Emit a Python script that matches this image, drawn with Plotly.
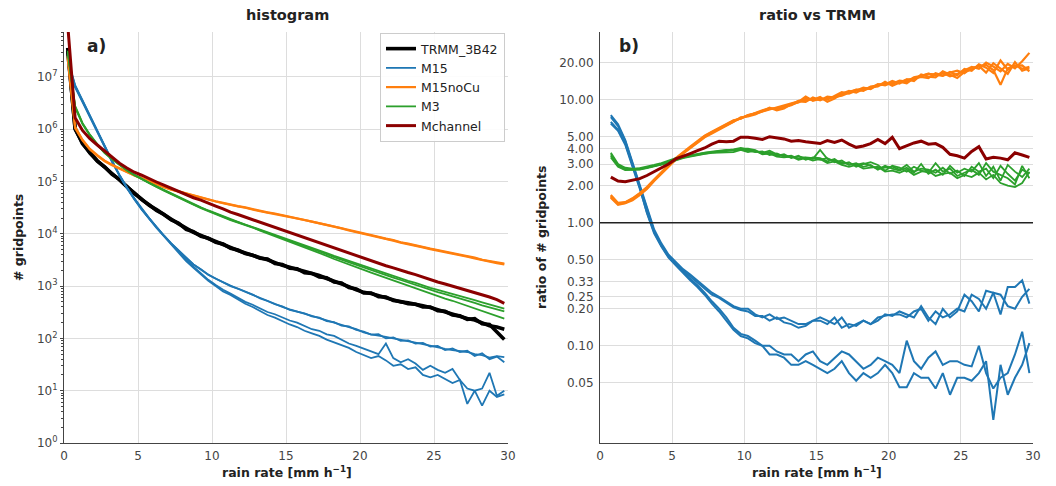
import plotly.graph_objects as go

# ---------------- data ----------------
rain_rate = [0.25, 0.75, 1.25, 1.75, 2.25, 2.75, 3.25, 3.75, 4.25, 4.75,
             5.25, 5.75, 6.25, 6.75, 7.25, 7.75, 8.25, 8.75, 9.25, 9.75,
             10.25, 10.75, 11.25, 11.75, 12.25, 12.75, 13.25, 13.75, 14.25, 14.75,
             15.25, 15.75, 16.25, 16.75, 17.25, 17.75, 18.25, 18.75, 19.25, 19.75,
             20.25, 20.75, 21.25, 21.75, 22.25, 22.75, 23.25, 23.75, 24.25, 24.75,
             25.25, 25.75, 26.25, 26.75, 27.25, 27.75, 28.25, 28.75, 29.25, 29.75]
rain_rate_ratio = rain_rate[1:]

# histogram (# gridpoints)
hist_trmm_a = [3.6e7, 1.0e6, 5.5e5, 3.5e5, 2.5e5, 1.86e5, 1.41e5, 1.07e5, 8.1e4, 5.9e4,
               4.6e4, 3.5e4, 2.9e4, 2.3e4, 1.9e4, 1.55e4, 1.26e4, 1.07e4, 9300, 8100,
               7100, 6300, 5500, 4800, 4300, 3800, 3500, 3200, 2800, 2500,
               2300, 2100, 1900, 1700, 1600, 1400, 1260, 1120, 980, 850,
               760, 720, 660, 600, 550, 500, 480, 440, 420, 390,
               355, 320, 290, 260, 240, 225, 200, 175, 165, 150]
hist_trmm_b = [3.2e7, 1.05e6, 5.3e5, 3.6e5, 2.45e5, 1.9e5, 1.38e5, 1.1e5, 7.9e4, 6.1e4,
               4.5e4, 3.6e4, 2.8e4, 2.35e4, 1.85e4, 1.6e4, 1.22e4, 1.1e4, 9000, 8300,
               6900, 6400, 5300, 4900, 4200, 3900, 3400, 3300, 2700, 2600,
               2200, 2150, 1800, 1750, 1500, 1450, 1200, 1150, 940, 880,
               740, 740, 630, 620, 530, 510, 460, 450, 400, 400,
               340, 330, 280, 270, 230, 240, 190, 185, 135, 95]
hist_m15_a = [2.0e7, 6.6e6, 3.5e6, 1.8e6, 8.9e5, 4.6e5, 2.4e5, 1.3e5, 7.6e4, 4.7e4,
              3.0e4, 2.0e4, 1.35e4, 9300, 6600, 4800, 3500, 2600, 2100, 1660,
              1380, 1170, 1020, 890, 780, 680, 590, 510, 460, 400,
              360, 330, 295, 270, 245, 220, 200, 180, 165, 150,
              130, 120, 115, 107, 100, 93, 89, 83, 78, 72,
              68, 63, 60, 58, 55, 50, 48, 43, 46, 44]
hist_m15_b = [1.8e7, 6.3e6, 3.3e6, 1.7e6, 8.6e5, 4.5e5, 2.35e5, 1.3e5, 7.4e4, 4.6e4,
              2.9e4, 1.95e4, 1.3e4, 9100, 6500, 4700, 3450, 2600, 2050, 1650,
              1400, 1200, 1000, 900, 800, 690, 580, 520, 450, 410,
              350, 320, 300, 265, 250, 215, 205, 175, 170, 145,
              135, 118, 120, 100, 104, 90, 92, 80, 82, 70,
              72, 60, 64, 55, 58, 46, 52, 40, 45, 35]
hist_m15_c = [2.2e7, 7.0e6, 3.6e6, 1.85e6, 9.2e5, 4.7e5, 2.45e5, 1.35e5, 7.7e4, 4.8e4,
              3.05e4, 2.0e4, 1.35e4, 9200, 6400, 4600, 3200, 2350, 1740, 1320,
              1050, 850, 720, 600, 500, 440, 380, 320, 290, 250,
              220, 200, 175, 150, 140, 120, 112, 95, 80, 72,
              63, 56, 50, 80, 42, 35, 40, 33, 25, 30,
              25, 22, 26, 16, 11, 10, 11, 22, 8, 10]
hist_m15_d = [2.1e7, 6.8e6, 3.4e6, 1.75e6, 8.8e5, 4.6e5, 2.4e5, 1.3e5, 7.5e4, 4.6e4,
              2.95e4, 1.95e4, 1.3e4, 9000, 6300, 4500, 3000, 2240, 1660, 1260,
              1000, 790, 680, 550, 460, 400, 330, 280, 250, 215,
              185, 165, 140, 125, 112, 95, 85, 76, 66, 55,
              48, 42, 46, 38, 30, 32, 26, 28, 20, 18,
              20, 17, 14, 16, 5.6, 10, 5.2, 10, 7.6, 8.5]
hist_m15nocu_a = [2.5e7, 1.12e6, 6.3e5, 4.2e5, 3.2e5, 2.5e5, 2.1e5, 1.78e5, 1.51e5, 1.32e5,
                  1.17e5, 1.02e5, 8.9e4, 7.9e4, 7.1e4, 6.5e4, 5.9e4, 5.4e4, 4.9e4, 4.6e4,
                  4.2e4, 3.9e4, 3.6e4, 3.4e4, 3.2e4, 2.95e4, 2.75e4, 2.57e4, 2.45e4, 2.29e4,
                  2.14e4, 2.0e4, 1.86e4, 1.74e4, 1.62e4, 1.48e4, 1.38e4, 1.29e4, 1.17e4, 1.1e4,
                  1.02e4, 9500, 8700, 8100, 7600, 6900, 6500, 6000, 5600, 5200,
                  4900, 4600, 4300, 4000, 3700, 3500, 3200, 3000, 2800, 2700]
hist_m15nocu_b = [2.3e7, 1.05e6, 6.1e5, 4.1e5, 3.1e5, 2.45e5, 2.05e5, 1.75e5, 1.49e5, 1.3e5,
                  1.15e5, 1.0e5, 8.8e4, 7.8e4, 7.0e4, 6.4e4, 5.8e4, 5.3e4, 4.85e4, 4.5e4,
                  4.15e4, 3.85e4, 3.55e4, 3.35e4, 3.15e4, 2.9e4, 2.7e4, 2.55e4, 2.4e4, 2.25e4,
                  2.1e4, 1.97e4, 1.84e4, 1.71e4, 1.6e4, 1.47e4, 1.36e4, 1.27e4, 1.16e4, 1.08e4,
                  1.0e4, 9300, 8600, 8000, 7400, 6800, 6400, 5900, 5500, 5100,
                  4800, 4500, 4200, 3900, 3650, 3400, 3150, 2950, 2750, 2600]
hist_m3_a = [3.2e7, 2.8e6, 1.32e6, 7.9e5, 5.2e5, 3.6e5, 2.7e5, 2.1e5, 1.66e5, 1.35e5,
             1.12e5, 9.5e4, 8.1e4, 6.9e4, 5.9e4, 5.0e4, 4.4e4, 3.7e4, 3.2e4, 2.8e4,
             2.45e4, 2.19e4, 1.9e4, 1.7e4, 1.51e4, 1.35e4, 1.2e4, 1.07e4, 9500, 8500,
             7600, 6800, 6000, 5400, 4800, 4300, 3800, 3400, 3000, 2700,
             2400, 2140, 1950, 1740, 1550, 1410, 1260, 1150, 1020, 930,
             850, 780, 710, 650, 590, 540, 490, 450, 410, 370]
hist_m3_b = [3.1e7, 2.7e6, 1.28e6, 7.8e5, 5.1e5, 3.55e5, 2.68e5, 2.08e5, 1.64e5, 1.34e5,
             1.11e5, 9.4e4, 8.0e4, 6.8e4, 5.8e4, 4.95e4, 4.3e4, 3.65e4, 3.15e4, 2.75e4,
             2.4e4, 2.15e4, 1.87e4, 1.67e4, 1.5e4, 1.33e4, 1.18e4, 1.05e4, 9300, 8300,
             7400, 6600, 5800, 5200, 4600, 4100, 3600, 3200, 2850, 2550,
             2250, 2000, 1820, 1620, 1450, 1310, 1170, 1060, 940, 850,
             770, 700, 640, 580, 520, 480, 430, 390, 360, 330]
hist_m3_c = [3.0e7, 2.6e6, 1.25e6, 7.6e5, 5.0e5, 3.5e5, 2.65e5, 2.05e5, 1.62e5, 1.32e5,
             1.1e5, 9.3e4, 7.9e4, 6.7e4, 5.7e4, 4.9e4, 4.25e4, 3.6e4, 3.1e4, 2.7e4,
             2.35e4, 2.1e4, 1.83e4, 1.63e4, 1.48e4, 1.32e4, 1.15e4, 1.02e4, 9100, 7900,
             7100, 6300, 5500, 4900, 4300, 3800, 3300, 2950, 2600, 2300,
             2040, 1820, 1620, 1450, 1290, 1150, 1020, 910, 810, 720,
             650, 575, 525, 470, 415, 380, 340, 300, 270, 240]
hist_mchannel = [1.0e8, 1.66e6, 9.5e5, 6.6e5, 5.0e5, 3.8e5, 2.95e5, 2.24e5, 1.82e5, 1.51e5,
                 1.32e5, 1.12e5, 9.8e4, 8.5e4, 7.4e4, 6.5e4, 5.6e4, 4.9e4, 4.4e4, 3.8e4,
                 3.4e4, 3.0e4, 2.6e4, 2.34e4, 2.09e4, 1.86e4, 1.66e4, 1.48e4, 1.32e4, 1.17e4,
                 1.07e4, 9500, 8500, 7600, 6800, 6000, 5400, 4800, 4300, 3800,
                 3400, 3000, 2750, 2450, 2240, 2000, 1820, 1660, 1480, 1350,
                 1200, 1100, 1000, 910, 830, 760, 690, 620, 550, 470]

# ratio vs TRMM (starts at 0.75 mm/h)
ratio_m15_a = [7.50, 6.30, 4.70, 3.10, 2.05, 1.30, 0.88, 0.68, 0.55,
               0.48, 0.42, 0.38, 0.34, 0.30, 0.27, 0.25, 0.23, 0.21, 0.20,
               0.20, 0.18, 0.17, 0.18, 0.165, 0.17, 0.16, 0.15, 0.15, 0.16,
               0.17, 0.16, 0.15, 0.17, 0.14, 0.15, 0.16, 0.15, 0.17, 0.175,
               0.18, 0.18, 0.17, 0.19, 0.20, 0.16, 0.19, 0.17, 0.18, 0.20,
               0.19, 0.26, 0.24, 0.20, 0.27, 0.26, 0.21, 0.20, 0.25, 0.29]
ratio_m15_b = [6.40, 5.60, 4.30, 2.90, 1.90, 1.22, 0.84, 0.65, 0.53,
               0.46, 0.41, 0.37, 0.33, 0.29, 0.26, 0.245, 0.225, 0.205, 0.195,
               0.19, 0.175, 0.175, 0.16, 0.17, 0.155, 0.15, 0.14, 0.145, 0.16,
               0.16, 0.15, 0.17, 0.14, 0.15, 0.145, 0.16, 0.15, 0.16, 0.18,
               0.175, 0.19, 0.18, 0.17, 0.21, 0.17, 0.15, 0.20, 0.17, 0.19,
               0.26, 0.23, 0.19, 0.28, 0.27, 0.18, 0.30, 0.30, 0.34, 0.22]
ratio_m15_c = [7.20, 6.10, 4.60, 3.00, 2.00, 1.25, 0.85, 0.66, 0.53,
               0.46, 0.40, 0.35, 0.31, 0.27, 0.23, 0.20, 0.17, 0.14, 0.125,
               0.12, 0.11, 0.10, 0.10, 0.09, 0.085, 0.085, 0.075, 0.085, 0.09,
               0.075, 0.07, 0.08, 0.09, 0.085, 0.075, 0.065, 0.07, 0.08, 0.075,
               0.07, 0.06, 0.11, 0.075, 0.065, 0.08, 0.09, 0.07, 0.075, 0.075,
               0.07, 0.068, 0.10, 0.06, 0.045, 0.055, 0.06, 0.085, 0.13, 0.06]
ratio_m15_d = [6.60, 5.70, 4.40, 2.95, 1.95, 1.20, 0.82, 0.64, 0.52,
               0.45, 0.39, 0.34, 0.30, 0.26, 0.22, 0.19, 0.16, 0.135, 0.12,
               0.115, 0.105, 0.10, 0.085, 0.085, 0.08, 0.07, 0.07, 0.075, 0.07,
               0.065, 0.06, 0.065, 0.075, 0.06, 0.052, 0.06, 0.055, 0.06, 0.07,
               0.06, 0.046, 0.046, 0.06, 0.055, 0.055, 0.045, 0.06, 0.04, 0.055,
               0.055, 0.052, 0.06, 0.075, 0.025, 0.07, 0.04, 0.055, 0.07, 0.105]
ratio_m15nocu_a = [1.62, 1.42, 1.45, 1.55, 1.70, 1.90, 2.20, 2.55, 2.90,
                   3.30, 3.70, 4.10, 4.50, 5.00, 5.40, 5.80, 6.20, 6.70, 7.10,
                   7.40, 7.80, 8.20, 8.50, 8.40, 8.70, 9.00, 9.60, 10.6, 9.8,
                   10.2, 10.0, 10.8, 11.5, 11.2, 11.8, 12.5, 12.2, 13.2, 13.6,
                   13.4, 14.3, 14.0, 15.2, 15.6, 16.3, 15.8, 16.5, 15.5, 16.2,
                   17.2, 18.5, 17.8, 20.0, 18.6, 17.0, 19.5, 18.0, 20.5, 24.0]
ratio_m15nocu_b = [1.68, 1.45, 1.47, 1.58, 1.74, 1.95, 2.25, 2.60, 2.95,
                   3.35, 3.75, 4.15, 4.60, 5.10, 5.50, 5.90, 6.30, 6.80, 7.00,
                   7.50, 7.70, 8.00, 8.30, 8.60, 8.90, 9.30, 9.70, 9.60, 10.4,
                   9.9, 10.6, 10.4, 11.0, 11.6, 12.0, 11.8, 12.8, 13.0, 13.3,
                   14.2, 13.5, 14.6, 14.8, 15.3, 15.0, 16.4, 15.7, 16.8, 15.8,
                   17.8, 17.2, 19.4, 18.2, 16.5, 20.8, 17.5, 19.0, 17.8, 18.5]
ratio_m15nocu_c = [1.60, 1.40, 1.44, 1.52, 1.68, 1.88, 2.18, 2.50, 2.85,
                   3.25, 3.65, 4.05, 4.45, 4.95, 5.30, 5.70, 6.10, 6.60, 7.20,
                   7.30, 7.60, 8.10, 8.60, 8.20, 8.50, 9.20, 9.50, 10.2, 10.0,
                   10.5, 9.6, 10.2, 11.2, 11.8, 11.4, 12.2, 12.6, 12.8, 14.0,
                   13.0, 13.8, 14.6, 14.2, 16.0, 15.4, 15.2, 17.0, 16.0, 15.0,
                   16.8, 17.6, 18.8, 16.6, 19.8, 18.0, 16.2, 20.2, 17.2, 18.0]
ratio_m15nocu_d = [1.65, 1.43, 1.46, 1.56, 1.72, 1.92, 2.22, 2.56, 2.92,
                   3.30, 3.68, 4.12, 4.55, 5.05, 5.45, 5.85, 6.25, 6.75, 7.05,
                   7.45, 7.75, 8.05, 8.40, 8.55, 8.80, 9.10, 9.80, 9.90, 10.1,
                   10.0, 10.3, 10.6, 10.8, 11.4, 12.1, 12.0, 12.4, 13.4, 13.1,
                   13.8, 14.0, 13.6, 15.0, 15.5, 16.2, 16.0, 15.6, 16.6, 17.2,
                   16.4, 18.2, 18.6, 19.2, 17.4, 13.2, 18.0, 18.8, 19.0, 17.0]
ratio_m3_a = [3.70, 3.00, 2.80, 2.75, 2.75, 2.80, 2.90, 3.00, 3.15,
              3.30, 3.40, 3.50, 3.60, 3.70, 3.75, 3.80, 3.85, 3.95, 4.05,
              3.95, 3.80, 3.70, 3.85, 3.60, 3.50, 3.40, 3.45, 3.35, 3.30,
              3.90, 3.30, 3.20, 3.10, 3.00, 2.95, 3.05, 2.90, 2.75, 2.80,
              2.85, 2.70, 2.95, 2.60, 2.75, 2.70, 2.55, 2.80, 2.50, 2.65,
              2.40, 2.85, 2.60, 2.75, 2.30, 2.90, 2.50, 2.20, 2.70, 2.50]
ratio_m3_b = [3.50, 2.90, 2.70, 2.70, 2.72, 2.80, 2.88, 2.98, 3.10,
              3.25, 3.38, 3.48, 3.58, 3.65, 3.72, 3.75, 3.82, 3.90, 3.95,
              3.85, 3.75, 3.80, 3.55, 3.65, 3.45, 3.50, 3.30, 3.40, 3.35,
              3.25, 3.35, 3.10, 3.20, 2.95, 3.05, 2.85, 2.95, 2.70, 2.90,
              2.75, 2.65, 2.80, 2.55, 3.00, 2.50, 2.70, 2.45, 2.90, 2.55,
              2.75, 2.60, 3.05, 2.40, 2.85, 2.20, 2.95, 2.60, 2.35, 2.75]
ratio_m3_c = [3.60, 2.95, 2.75, 2.72, 2.78, 2.85, 2.95, 3.05, 3.20,
              3.35, 3.45, 3.55, 3.65, 3.72, 3.78, 3.85, 3.90, 3.85, 4.00,
              4.00, 3.90, 3.65, 3.75, 3.50, 3.60, 3.35, 3.50, 3.25, 3.40,
              3.35, 3.15, 3.30, 3.00, 3.10, 2.85, 3.00, 3.10, 2.95, 2.65,
              2.90, 2.80, 2.60, 2.85, 2.65, 2.55, 3.05, 2.60, 2.75, 2.40,
              2.55, 2.70, 2.45, 3.05, 2.60, 2.45, 2.30, 2.05, 2.90, 2.30]
ratio_m3_d = [3.40, 2.85, 2.68, 2.68, 2.70, 2.78, 2.86, 2.96, 3.08,
              3.22, 3.35, 3.45, 3.55, 3.62, 3.70, 3.72, 3.78, 3.75, 3.90,
              3.75, 3.85, 3.60, 3.65, 3.45, 3.40, 3.45, 3.25, 3.35, 3.20,
              3.30, 3.05, 3.15, 2.95, 2.85, 2.95, 2.75, 2.80, 2.85, 2.60,
              2.65, 2.55, 2.70, 2.45, 2.60, 2.65, 2.40, 2.50, 2.55, 2.30,
              2.45, 2.35, 2.55, 2.25, 2.45, 2.10, 2.00, 1.95, 2.10, 2.60]
ratio_mchannel = [2.35, 2.18, 2.15, 2.20, 2.28, 2.42, 2.60, 2.80, 3.00,
                  3.30, 3.45, 3.65, 3.85, 4.05, 4.35, 4.60, 4.55, 4.60, 4.95,
                  4.95, 4.85, 4.75, 5.00, 4.90, 4.80, 4.60, 4.65, 4.55, 4.45,
                  4.40, 4.65, 4.50, 4.70, 4.35, 4.10, 4.20, 4.40, 4.75, 4.40,
                  4.95, 4.00, 4.20, 4.45, 4.60, 4.35, 4.40, 4.10, 3.60, 3.50,
                  3.35, 3.80, 4.15, 3.30, 3.40, 3.35, 3.25, 3.70, 3.55, 3.40]

# ticks
x_ticks = [0, 5, 10, 15, 20, 25, 30]
hist_tick_vals = [1, 10, 100, 1e3, 1e4, 1e5, 1e6, 1e7]
hist_tick_text = ["10<sup>0</sup>", "10<sup>1</sup>", "10<sup>2</sup>", "10<sup>3</sup>",
                  "10<sup>4</sup>", "10<sup>5</sup>", "10<sup>6</sup>", "10<sup>7</sup>"]
hist_minor_vals = [m * d for d in [1, 10, 100, 1e3, 1e4, 1e5, 1e6, 1e7]
                   for m in [2, 3, 4, 5, 6, 7, 8, 9]]
ratio_tick_vals = [0.05, 0.1, 0.2, 0.25, 1 / 3, 0.5, 1, 2, 3, 4, 5, 10, 20]
ratio_tick_text = ["0.05", "0.10", "0.20", "0.25", "0.33", "0.50", "1.00",
                   "2.00", "3.00", "4.00", "5.00", "10.00", "20.00"]

# ---------------- style ----------------
FONT = "DejaVu Sans"
C_TRMM, C_M15, C_NOCU, C_M3, C_MCH = "#000000", "#1f77b4", "#ff7f0e", "#2ca02c", "#8b0000"
W, H = 1056, 486

fig = go.Figure()


def add(x, y, color, width, name, group, show, xa, ya):
    fig.add_trace(go.Scatter(x=x, y=y, mode="lines", name=name, legendgroup=group,
                             showlegend=show, line=dict(color=color, width=width),
                             xaxis=xa, yaxis=ya, hoverinfo="skip"))


# left panel
for i, s in enumerate([hist_trmm_a, hist_trmm_b]):
    add(rain_rate, s, C_TRMM, 3.6, "TRMM_3B42", "trmm", i == 0, "x", "y")
for i, s in enumerate([hist_m15_a, hist_m15_b, hist_m15_c, hist_m15_d]):
    add(rain_rate, s, C_M15, 1.8, "M15", "m15", i == 0, "x", "y")
for i, s in enumerate([hist_m15nocu_a, hist_m15nocu_b]):
    add(rain_rate, s, C_NOCU, 2.2, "M15noCu", "nocu", i == 0, "x", "y")
for i, s in enumerate([hist_m3_a, hist_m3_b, hist_m3_c]):
    add(rain_rate, s, C_M3, 1.8, "M3", "m3", i == 0, "x", "y")
add(rain_rate, hist_mchannel, C_MCH, 3.0, "Mchannel", "mch", True, "x", "y")

# right panel
for s in [ratio_m15_a, ratio_m15_b, ratio_m15_c, ratio_m15_d]:
    add(rain_rate_ratio, s, C_M15, 2.0, "M15", "m15", False, "x2", "y2")
for s in [ratio_m15nocu_a, ratio_m15nocu_b, ratio_m15nocu_c, ratio_m15nocu_d]:
    add(rain_rate_ratio, s, C_NOCU, 2.2, "M15noCu", "nocu", False, "x2", "y2")
for s in [ratio_m3_a, ratio_m3_b, ratio_m3_c, ratio_m3_d]:
    add(rain_rate_ratio, s, C_M3, 1.8, "M3", "m3", False, "x2", "y2")
add(rain_rate_ratio, ratio_mchannel, C_MCH, 3.0, "Mchannel", "mch", False, "x2", "y2")

GRID = "#dddddd"
SPINE = "#444444"
TICKF = dict(family=FONT, size=12, color="#444444")

xcommon = dict(range=[0, 30], tickvals=x_ticks, showgrid=True, gridcolor=GRID, gridwidth=1,
               showline=True, linecolor=SPINE, linewidth=1, ticks="", ticklabelstandoff=2,
               tickfont=TICKF, zeroline=False, automargin=False)

y_dom = [(H - 443) / H, (H - 32) / H]

fig.update_layout(
    width=W, height=H,
    margin=dict(l=0, r=0, t=0, b=0, autoexpand=False),
    paper_bgcolor="white", plot_bgcolor="white",
    font=dict(family=FONT),
    xaxis=dict(domain=[64 / W, 508 / W], anchor="y", **xcommon),
    yaxis=dict(domain=y_dom, anchor="x", type="log", range=[0, 7.86],
               tickvals=hist_tick_vals, ticktext=hist_tick_text,
               showgrid=True, gridcolor=GRID, gridwidth=1,
               showline=True, linecolor=SPINE, linewidth=1,
               ticks="outside", ticklen=3, tickcolor=SPINE, tickfont=TICKF,
               minor=dict(tickvals=hist_minor_vals, ticks="outside", ticklen=2,
                          tickcolor=SPINE, showgrid=False),
               zeroline=False, automargin=False),
    xaxis2=dict(domain=[600 / W, 1033 / W], anchor="y2", **xcommon),
    yaxis2=dict(domain=y_dom, anchor="x2", type="log", range=[-1.79, 1.55],
                tickvals=ratio_tick_vals, ticktext=ratio_tick_text,
                showgrid=True, gridcolor=GRID, gridwidth=1,
                showline=True, linecolor=SPINE, linewidth=1,
                ticks="", ticklabelstandoff=3, tickfont=TICKF,
                zeroline=False, automargin=False),
    legend=dict(x=380 / W, y=1 - 33 / H, xanchor="left", yanchor="top",
                bgcolor="rgba(255,255,255,0.9)", bordercolor="#cccccc", borderwidth=1,
                font=dict(family=FONT, size=12.5, color="#222222"),
                tracegroupgap=0, itemwidth=30),
    showlegend=True,
)

# reference line at ratio 1
fig.add_shape(type="line", xref="x2 domain", yref="y2", x0=0, x1=1, y0=1, y1=1,
              line=dict(color="#222222", width=1.6))


def note(text, px, py, size, angle=0):
    return dict(text=text, x=px / W, y=1 - py / H, xref="paper", yref="paper",
                xanchor="center", yanchor="middle", showarrow=False, textangle=angle,
                font=dict(family=FONT, size=size, color="#222222"))


ann = [
    note("<b>histogram</b>", 287, 15, 14.5),
    note("<b>ratio vs TRMM</b>", 817, 15, 14.5),
    note("<b>a)</b>", 96, 46, 17),
    note("<b>b)</b>", 629, 46, 17),
    note("<b>rain rate [mm h<sup>\u22121</sup>]</b>", 287, 472, 12.5),
    note("<b>rain rate [mm h<sup>\u22121</sup>]</b>", 817, 472, 12.5),
    note("<b># gridpoints</b>", 18, 238, 12.5, -90),
    note("<b>ratio of # gridpoints</b>", 541, 238, 12.5, -90),
]
fig.update_layout(annotations=ann)

fig.write_html("out.html", config={"displayModeBar": False},
               post_script="document.body.style.margin='0px';")
